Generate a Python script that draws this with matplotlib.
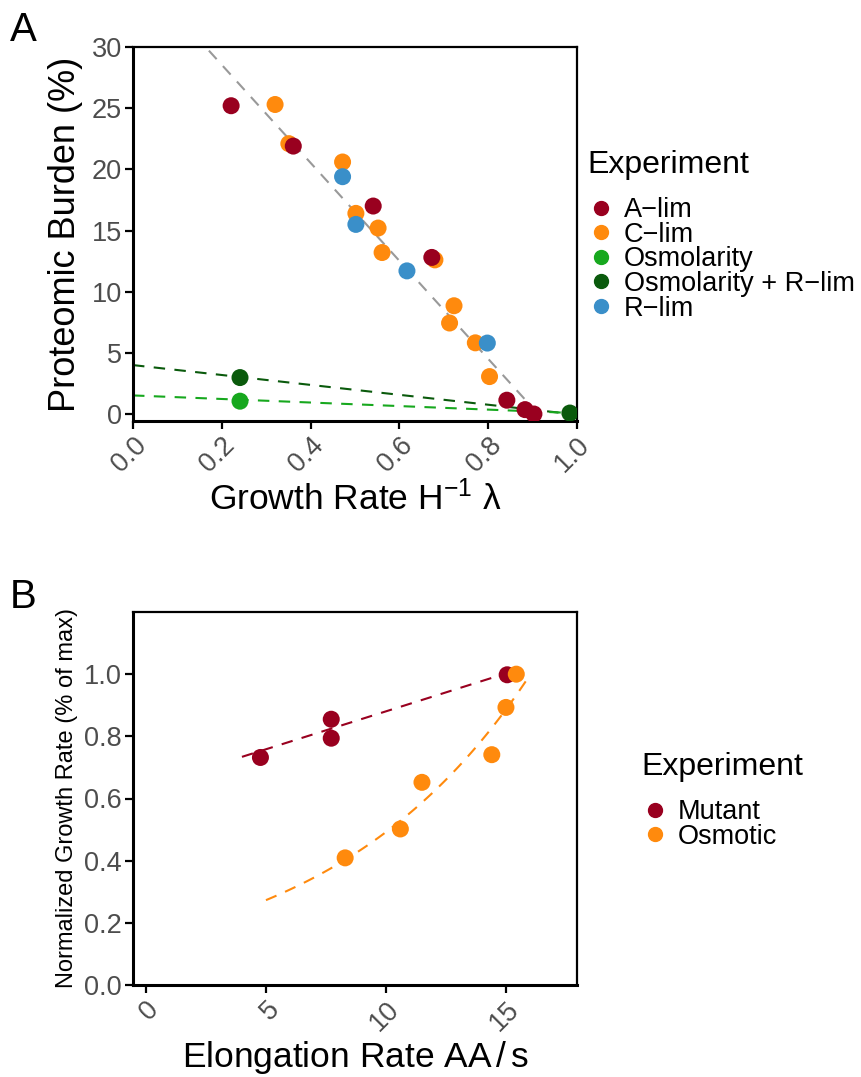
import numpy as np
import matplotlib
matplotlib.use("Agg")
import matplotlib.pyplot as plt
from matplotlib.lines import Line2D

# ── Data: panel A (proteomic burden vs growth rate) ───────────────────────────
a_lim_x = [0.221, 0.361, 0.541, 0.673, 0.842, 0.883, 0.903]
a_lim_y = [25.2, 21.9, 17.0, 12.8, 1.13, 0.36, 0.0]
c_lim_x = [0.320, 0.351, 0.472, 0.502, 0.552, 0.561, 0.680, 0.723, 0.713, 0.771, 0.803]
c_lim_y = [25.3, 22.1, 20.6, 16.4, 15.2, 13.2, 12.6, 8.85, 7.44, 5.82, 3.06]
osm_x = [0.241]
osm_y = [1.05]
osm_r_x = [0.241, 0.984]
osm_r_y = [2.98, 0.08]
r_lim_x = [0.472, 0.502, 0.617, 0.798]
r_lim_y = [19.4, 15.5, 11.7, 5.8]

# fitted lines: (intercept, slope, x_start, x_end)
fit_main = (36.55, -40.05, 0.171, 0.917)
fit_osm_r = (4.0, -4.05, 0.0, 0.985)
fit_osm = (1.52, -1.45, 0.0, 0.98)

# ── Data: panel B (normalized growth vs elongation rate) ──────────────────────
mut_x = [4.77, 7.72, 7.72, 15.05]
mut_y = [0.732, 0.855, 0.794, 0.998]
osmo_x = [8.3, 10.6, 11.5, 14.41, 15.0, 15.43]
osmo_y = [0.409, 0.502, 0.652, 0.741, 0.893, 1.0]

# mutant: linear (value at x0, slope, x0, x1); osmotic: a*exp(b*(x-x0))
fit_mut = (0.734, 0.0244, 4.0, 15.0)
fit_osmo = (0.273, 0.1178, 5.0, 15.9)

# ── Style ─────────────────────────────────────────────────────────────────────
RED = "#99001f"
ORG = "#ff8a0d"
GRN = "#17a81e"
DGR = "#0a5a0c"
BLU = "#3a8fc9"
GRY = "#999999"
TICK = "#4d4d4d"
DASH = (5.5, 4.5)

plt.rcParams["font.family"] = ["Liberation Sans", "DejaVu Sans"]
plt.rcParams["mathtext.fontset"] = "custom"
plt.rcParams["mathtext.rm"] = "Liberation Sans"
plt.rcParams["mathtext.it"] = "Liberation Sans:italic"

W, H = 861, 1077
fig = plt.figure(figsize=(W / 100, H / 100), dpi=100, facecolor="white")


def axes_px(left, top, right, bottom):
    return fig.add_axes([left / W, 1 - bottom / H, (right - left) / W, (bottom - top) / H])


def style_ax(ax):
    for side in ("left", "bottom"):
        ax.spines[side].set_linewidth(2.2)
    for side in ("top", "right"):
        ax.spines[side].set_linewidth(1.6)
    ax.tick_params(direction="out", length=6, width=1.6, color="black",
                   labelsize=19.5, labelcolor=TICK, pad=2)
    for lab in ax.get_xticklabels():
        lab.set_rotation(45)
        lab.set_ha("right")
        lab.set_va("top")
        lab.set_rotation_mode("anchor")


def legend(ax, handles, x, y):
    lg = ax.legend(handles=handles, title="Experiment", loc="center left",
                   bbox_to_anchor=(x / W, 1 - y / H), bbox_transform=fig.transFigure,
                   frameon=False, fontsize=19.5, title_fontsize=23,
                   handletextpad=0.35, handlelength=1.0, labelspacing=-0.05,
                   borderpad=0, borderaxespad=0, alignment="left")
    lg._legend_box.sep = 12
    return lg


def dot(color, label):
    return Line2D([], [], ls="none", marker="o", ms=10, color=color, label=label)


# ── Panel A ───────────────────────────────────────────────────────────────────
ax1 = axes_px(133, 47, 577, 421)
for (b0, b1, x0, x1), col in [(fit_main, GRY), (fit_osm_r, DGR), (fit_osm, GRN)]:
    xs = np.array([x0, x1])
    ax1.plot(xs, b0 + b1 * xs, color=col, lw=1.5, ls="--", dashes=DASH, zorder=2)

# A-lim sits on top where it overlaps other series
for xs, ys, col, z in [(c_lim_x, c_lim_y, ORG, 3), (osm_x, osm_y, GRN, 3),
                       (osm_r_x, osm_r_y, DGR, 3), (r_lim_x, r_lim_y, BLU, 3),
                       (a_lim_x, a_lim_y, RED, 4)]:
    ax1.scatter(xs, ys, s=150, color=col, edgecolors="none", zorder=z)

ax1.set_xlim(0, 1)
ax1.set_ylim(-0.57, 30)
ax1.set_xticks([0.0, 0.2, 0.4, 0.6, 0.8, 1.0])
ax1.set_xticklabels(["0.0", "0.2", "0.4", "0.6", "0.8", "1.0"])
ax1.set_yticks([0, 5, 10, 15, 20, 25, 30])
style_ax(ax1)
ax1.set_ylabel("Proteomic Burden (%)", fontsize=26, labelpad=6)
ax1.set_xlabel(r"Growth Rate H$^{-1}$ λ", fontsize=25.5, labelpad=2)

legend(ax1, [dot(RED, "A−lim"), dot(ORG, "C−lim"), dot(GRN, "Osmolarity"),
             dot(DGR, "Osmolarity + R−lim"), dot(BLU, "R−lim")], 587, 236)

fig.text(10 / W, 1 - 30 / H, "A", fontsize=29, va="center", ha="left")

# ── Panel B ───────────────────────────────────────────────────────────────────
ax2 = axes_px(133, 612, 577, 985)
b0, b1, x0, x1 = fit_mut
xs = np.array([x0, x1])
ax2.plot(xs, b0 + b1 * (xs - x0), color=RED, lw=1.5, ls="--", dashes=DASH, zorder=2)
a, b, x0, x1 = fit_osmo
xs = np.linspace(x0, x1, 100)
ax2.plot(xs, a * np.exp(b * (xs - x0)), color=ORG, lw=1.5, ls="--", dashes=DASH, zorder=2)

ax2.scatter(mut_x, mut_y, s=150, color=RED, edgecolors="none", zorder=3)
ax2.scatter(osmo_x, osmo_y, s=150, color=ORG, edgecolors="none", zorder=4)

ax2.set_xlim(-0.54, 17.96)
ax2.set_ylim(0, 1.2)
ax2.set_xticks([0, 5, 10, 15])
ax2.set_yticks([0.0, 0.2, 0.4, 0.6, 0.8, 1.0])
ax2.set_yticklabels(["0.0", "0.2", "0.4", "0.6", "0.8", "1.0"])
style_ax(ax2)
ax2.set_ylabel("Normalized Growth Rate (% of max)", fontsize=17, labelpad=4)
ax2.set_xlabel(r"Elongation Rate AA$\,/\,$s", fontsize=25.5, labelpad=2)

legend(ax2, [dot(RED, "Mutant"), dot(ORG, "Osmotic")], 641, 801)

fig.text(10 / W, 1 - 597 / H, "B", fontsize=29, va="center", ha="left")

fig.savefig("out.png", dpi=100, facecolor="white")
